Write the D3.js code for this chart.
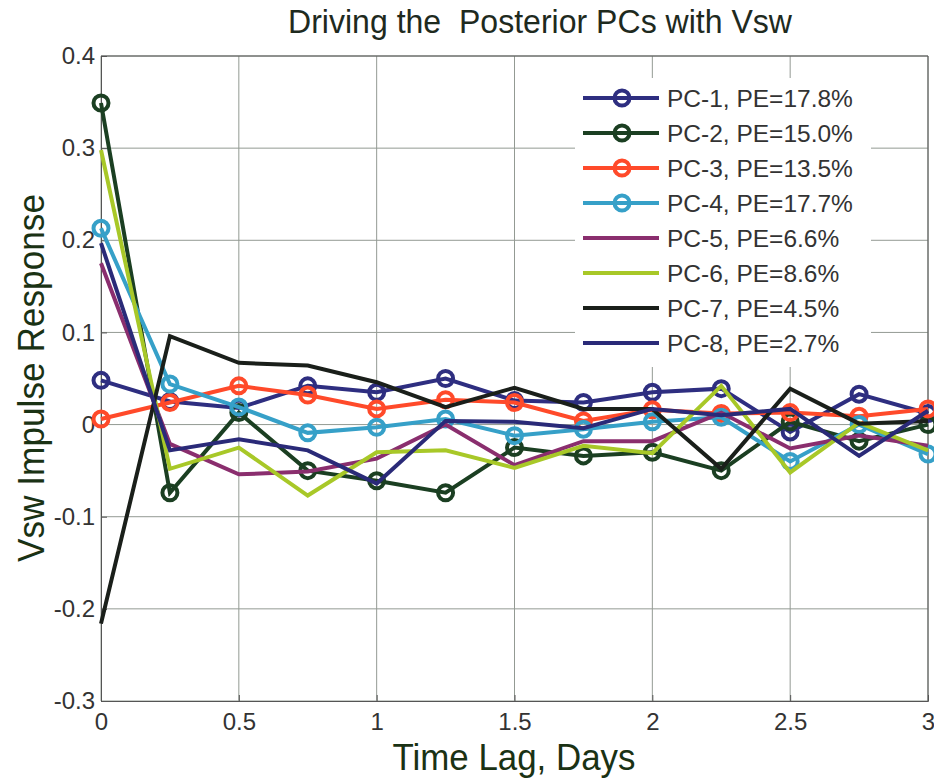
<!doctype html>
<html>
<head>
  <meta charset="utf8"/>
  <style>
    body { margin: 0; background: #fff; }
    .grid line { stroke: #939a93; stroke-width: 1px; }
    .line { fill: none; stroke-width: 4px; stroke-linejoin: miter; }
    .tick text { font-family: 'Liberation Sans', Arial, sans-serif; font-size: 24px; fill: #333; }
  </style>
</head>
<body>
  <svg width="934" height="780"></svg>
  <script src="https://cdn.jsdelivr.net/npm/d3@7"></script>
  <script>
    // time lags, days
    var lags = [0, 0.25, 0.5, 0.75, 1, 1.25, 1.5, 1.75, 2, 2.25, 2.5, 2.75, 3];

    var seriesNames = ['PC-1, PE=17.8%', 'PC-2, PE=15.0%', 'PC-3, PE=13.5%', 'PC-4, PE=17.7%',
                       'PC-5, PE=6.6%', 'PC-6, PE=8.6%', 'PC-7, PE=4.5%', 'PC-8, PE=2.7%'];
    var seriesColors = ['#2e2e80', '#1b3f22', '#ff4a2a', '#36a0c8',
                        '#8a2e6e', '#a8c828', '#1a1f1a', '#2a2a78'];
    var seriesMarkers = [true, true, true, true, false, false, false, false];

    var pc1 = [0.048, 0.025, 0.018, 0.042, 0.035, 0.050, 0.026, 0.024, 0.035, 0.039, -0.008, 0.033, 0.012];
    var pc2 = [0.349, -0.074, 0.013, -0.050, -0.061, -0.074, -0.025, -0.034, -0.030, -0.050, 0.003, -0.018, 0.000];
    var pc3 = [0.006, 0.024, 0.042, 0.032, 0.017, 0.027, 0.024, 0.004, 0.016, 0.012, 0.013, 0.009, 0.017];
    var pc4 = [0.213, 0.044, 0.019, -0.009, -0.003, 0.006, -0.012, -0.005, 0.003, 0.008, -0.040, 0.000, -0.032];
    var pc5 = [0.175, -0.021, -0.054, -0.051, -0.037, 0.000, -0.044, -0.018, -0.018, 0.013, -0.026, -0.012, -0.023];
    var pc6 = [0.298, -0.048, -0.025, -0.077, -0.030, -0.028, -0.047, -0.023, -0.031, 0.042, -0.052, 0.002, -0.028];
    var pc7 = [-0.216, 0.096, 0.067, 0.064, 0.046, 0.019, 0.040, 0.017, 0.017, -0.048, 0.039, 0.001, 0.004];
    var pc8 = [0.197, -0.028, -0.016, -0.028, -0.064, 0.004, 0.003, -0.004, 0.017, 0.010, 0.017, -0.034, 0.015];

    var xTicks = [0, 0.5, 1, 1.5, 2, 2.5, 3];
    var yTicks = [0.4, 0.3, 0.2, 0.1, 0, -0.1, -0.2, -0.3];

    var seriesValues = [pc1, pc2, pc3, pc4, pc5, pc6, pc7, pc8];
    var series = seriesValues.map(function(vals, i) {
      return {
        name: seriesNames[i],
        color: seriesColors[i],
        marker: seriesMarkers[i],
        values: vals.map(function(v, j) { return {lag: lags[j], value: v}; })
      };
    });

    var svg = d3.select('svg'),
        margin = {top: 56, right: 6, bottom: 79, left: 101},
        width = +svg.attr('width') - margin.left - margin.right,
        height = +svg.attr('height') - margin.top - margin.bottom,
        g = svg.append('g').attr('transform', 'translate(' + margin.left + ',' + margin.top + ')');

    var x = d3.scaleLinear().domain([0, 3]).range([0, width]);
    var y = d3.scaleLinear().domain([-0.3, 0.4]).range([height, 0]);

    // grid
    var grid = g.append('g').attr('class', 'grid');
    grid.selectAll('.gx').data(xTicks).enter().append('line')
      .attr('x1', function(d) { return x(d); }).attr('x2', function(d) { return x(d); })
      .attr('y1', 0).attr('y2', height);
    grid.selectAll('.gy').data(yTicks).enter().append('line')
      .attr('x1', 0).attr('x2', width)
      .attr('y1', function(d) { return y(d); }).attr('y2', function(d) { return y(d); });

    // axes
    var fmt = function(d) { return d === 0 ? '0' : d3.format('.1f')(d).replace('\u2212', '-'); };
    var fmtX = function(d) { return d3.format('~g')(d); };

    g.append('g')
      .attr('transform', 'translate(0,' + height + ')')
      .call(d3.axisBottom(x).tickValues(xTicks).tickFormat(fmtX).tickSize(-6).tickPadding(12))
      .call(function(a) {
        a.select('.domain').attr('stroke', '#555');
        a.selectAll('.tick line').attr('stroke', '#555');
      });

    g.append('g')
      .call(d3.axisLeft(y).tickValues(yTicks).tickFormat(fmt).tickSize(-6).tickPadding(6))
      .call(function(a) {
        a.select('.domain').attr('stroke', '#555');
        a.selectAll('.tick line').attr('stroke', '#555');
      });

    g.append('line').attr('x1', 0).attr('x2', width).attr('y1', 0).attr('y2', 0).attr('stroke', '#555');
    g.append('line').attr('x1', width).attr('x2', width).attr('y1', 0).attr('y2', height).attr('stroke', '#555');

    // lines
    var line = d3.line()
      .x(function(d) { return x(d.lag); })
      .y(function(d) { return y(d.value); });

    var plot = g.append('g');
    var pcs = plot.selectAll('.pc').data(series).enter().append('g').attr('class', 'pc');

    pcs.append('path')
      .attr('class', 'line')
      .attr('d', function(d) { return line(d.values); })
      .style('stroke', function(d) { return d.color; });

    pcs.filter(function(d) { return d.marker; })
      .selectAll('circle')
      .data(function(d) { return d.values.map(function(v) { return {lag: v.lag, value: v.value, color: d.color}; }); })
      .enter().append('circle')
        .attr('cx', function(d) { return x(d.lag); })
        .attr('cy', function(d) { return y(d.value); })
        .attr('r', 7.5)
        .attr('fill', 'none')
        .attr('stroke', function(d) { return d.color; })
        .attr('stroke-width', 4);

    // legend
    var lx = 474, ly = 22, rowH = 35;
    var legend = g.append('g').attr('transform', 'translate(' + lx + ',' + ly + ')');
    legend.append('rect')
      .attr('x', 0).attr('y', 0).attr('width', 296).attr('height', 289)
      .attr('fill', '#fff');

    var rows = legend.selectAll('.row').data(series).enter().append('g')
      .attr('transform', function(d, i) { return 'translate(0,' + (20 + i * rowH) + ')'; });
    rows.append('line')
      .attr('x1', 8).attr('x2', 84).attr('y1', 0).attr('y2', 0)
      .attr('stroke', function(d) { return d.color; })
      .attr('stroke-width', 4);
    rows.filter(function(d) { return d.marker; }).append('circle')
      .attr('cx', 47).attr('cy', 0).attr('r', 7.5)
      .attr('fill', 'none')
      .attr('stroke', function(d) { return d.color; })
      .attr('stroke-width', 4);
    rows.append('text')
      .attr('x', 92).attr('dy', '0.36em')
      .style('font-family', "'Liberation Sans', Arial, sans-serif")
      .style('font-size', '24.5px')
      .style('fill', '#333')
      .text(function(d) { return d.name; });

    // title and axis labels
    svg.append('text')
      .attr('x', 540).attr('y', 33)
      .attr('text-anchor', 'middle')
      .attr('textLength', 504)
      .attr('lengthAdjust', 'spacingAndGlyphs')
      .style('font-family', "'Liberation Sans', Arial, sans-serif")
      .style('font-size', '33px')
      .style('fill', '#1e2a1e')
      .style('white-space', 'pre')
      .text('Driving the  Posterior PCs with Vsw');

    svg.append('text')
      .attr('x', 514).attr('y', 770)
      .attr('text-anchor', 'middle')
      .attr('textLength', 243)
      .attr('lengthAdjust', 'spacingAndGlyphs')
      .style('font-family', "'Liberation Sans', Arial, sans-serif")
      .style('font-size', '36px')
      .style('fill', '#1a3214')
      .text('Time Lag, Days');

    svg.append('text')
      .attr('transform', 'translate(44,' + 378 + ') rotate(-90)')
      .attr('text-anchor', 'middle')
      .attr('textLength', 368)
      .attr('lengthAdjust', 'spacingAndGlyphs')
      .style('font-family', "'Liberation Sans', Arial, sans-serif")
      .style('font-size', '36px')
      .style('fill', '#1a3214')
      .text('Vsw Impulse Response');
  </script>
</body>
</html>
